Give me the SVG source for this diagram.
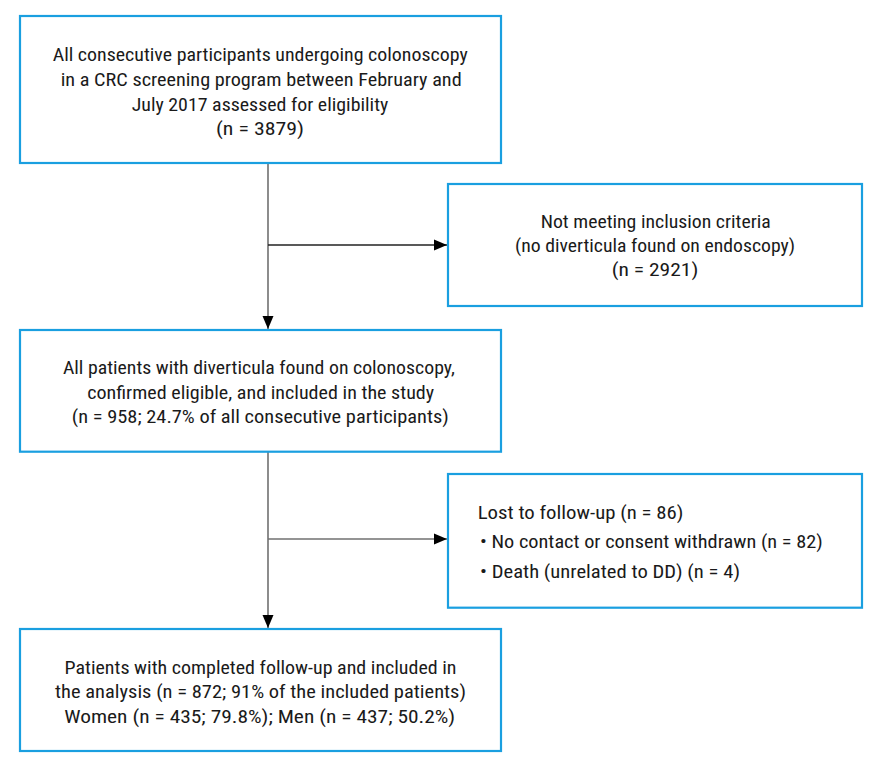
<svg xmlns="http://www.w3.org/2000/svg" width="883" height="773" viewBox="0 0 883 773">
<style>
.box{fill:#fff;stroke:#1a9fe0;stroke-width:2.2}
text{font-family:"Liberation Sans Narrow","Roboto Condensed","DejaVu Sans Condensed","Liberation Sans",Arial,sans-serif;font-size:18px;fill:#1a1a1a}
.c{text-anchor:middle}
.ln{fill:none;stroke:#707070;stroke-width:1.6}
.ln2{fill:none;stroke:#222;stroke-width:1.4}
</style>
<defs>
<marker id="ah" markerUnits="userSpaceOnUse" markerWidth="14" markerHeight="12" viewBox="0 0 14 12" refX="13" refY="6" orient="auto">
<path d="M0,0.5 L13,6 L0,11.5 Z" fill="#000"/>
</marker>
</defs>
<rect width="883" height="773" fill="#fff"/>
<g id="connectors">
<path class="ln" d="M268,164 V329" marker-end="url(#ah)"/>
<path class="ln2" d="M268,245 H447" marker-end="url(#ah)"/>
<path class="ln" d="M268,452 V628" marker-end="url(#ah)"/>
<path class="ln" d="M268,539 H447" marker-end="url(#ah)"/>
</g>
<g id="node-eligibility">
<rect class="box" x="20" y="16" width="481" height="147"/>
<text class="c" x="260.2" y="61" textLength="415" lengthAdjust="spacingAndGlyphs">All consecutive participants undergoing colonoscopy</text>
<text class="c" x="261.2" y="86" textLength="401" lengthAdjust="spacingAndGlyphs">in a CRC screening program between February and</text>
<text class="c" x="260" y="110.7" textLength="256.6" lengthAdjust="spacingAndGlyphs">July 2017 assessed for eligibility</text>
<text class="c" x="260" y="135" textLength="88" lengthAdjust="spacingAndGlyphs">(n = 3879)</text>
</g>
<g id="node-excluded">
<rect class="box" x="448" y="184" width="414" height="122"/>
<text class="c" x="655.7" y="227.7" textLength="230" lengthAdjust="spacingAndGlyphs">Not meeting inclusion criteria</text>
<text class="c" x="655" y="251.7" textLength="280" lengthAdjust="spacingAndGlyphs">(no diverticula found on endoscopy)</text>
<text class="c" x="655" y="276" textLength="86.7" lengthAdjust="spacingAndGlyphs">(n = 2921)</text>
</g>
<g id="node-included">
<rect class="box" x="20" y="330" width="481" height="121.7"/>
<text class="c" x="258.9" y="374" textLength="392" lengthAdjust="spacingAndGlyphs">All patients with diverticula found on colonoscopy,</text>
<text class="c" x="260.7" y="399" textLength="347" lengthAdjust="spacingAndGlyphs">confirmed eligible, and included in the study</text>
<text class="c" x="260.3" y="423" textLength="377" lengthAdjust="spacingAndGlyphs">(n = 958; 24.7% of all consecutive participants)</text>
</g>
<g id="node-lost">
<rect class="box" x="448" y="474" width="414" height="133.7"/>
<text x="477.7" y="519.3" textLength="205.7" lengthAdjust="spacingAndGlyphs">Lost to follow-up (n = 86)</text>
<text x="480" y="548.3" textLength="342.7" lengthAdjust="spacingAndGlyphs">• No contact or consent withdrawn (n = 82)</text>
<text x="480" y="578.3" textLength="260" lengthAdjust="spacingAndGlyphs">• Death (unrelated to DD) (n = 4)</text>
</g>
<g id="node-analysis">
<rect class="box" x="20" y="629" width="481" height="122"/>
<text class="c" x="260.5" y="674" textLength="392" lengthAdjust="spacingAndGlyphs">Patients with completed follow-up and included in</text>
<text class="c" x="260.5" y="698.3" textLength="411" lengthAdjust="spacingAndGlyphs">the analysis (n = 872; 91% of the included patients)</text>
<text class="c" x="259.7" y="722.7" textLength="391" lengthAdjust="spacingAndGlyphs">Women (n = 435; 79.8%); Men (n = 437; 50.2%)</text>
</g>
</svg>
